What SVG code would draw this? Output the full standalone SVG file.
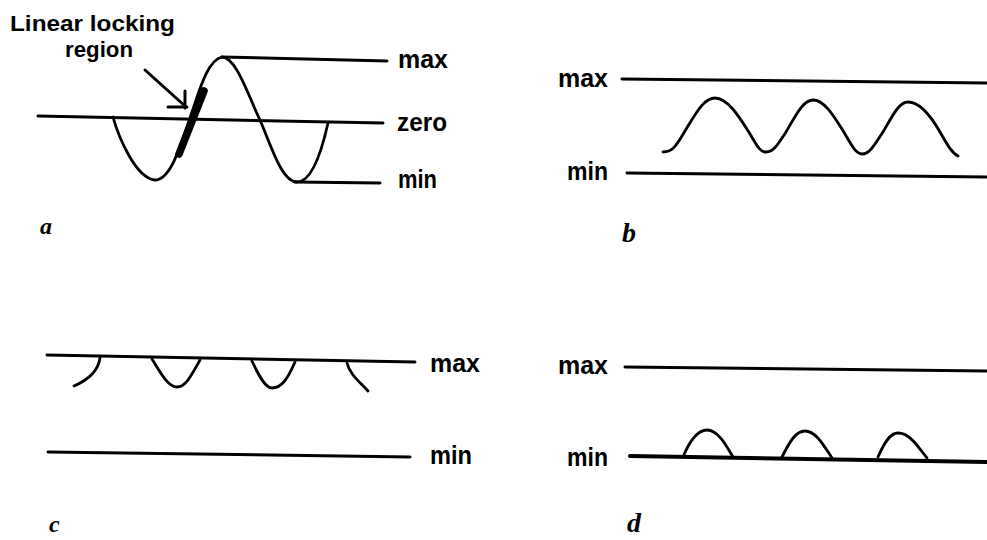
<svg xmlns="http://www.w3.org/2000/svg" width="987" height="540" viewBox="0 0 987 540">
<style>
.ln{stroke:#000;stroke-width:3;fill:none;stroke-linecap:round}
.cv{stroke:#000;stroke-width:2.8;fill:none;stroke-linecap:round;stroke-linejoin:round}
.t{font-family:"Liberation Sans",Arial,sans-serif;font-weight:bold;font-size:26px;fill:#000}
.hd{font-family:"Liberation Sans",Arial,sans-serif;font-weight:bold;font-size:22px;fill:#000}
.lbl{font-family:"Liberation Serif","Times New Roman",serif;font-style:italic;font-weight:bold;fill:#000}
</style>
<rect width="987" height="540" fill="#fff"/>
<g id="panel-a">
  <text class="hd" x="10" y="31" textLength="165" lengthAdjust="spacingAndGlyphs">Linear locking</text>
  <text class="hd" x="65" y="57" textLength="68" lengthAdjust="spacingAndGlyphs">region</text>
  <line class="ln" x1="222" y1="57" x2="387" y2="61"/>
  <line class="ln" x1="38" y1="116" x2="383" y2="123"/>
  <line class="ln" x1="295" y1="182" x2="380" y2="183"/>
  <path class="cv" d="M113,117 C118,135 135,178 155,180 C172,180 182,140 192,112 C200,88 208,60 222,57 C236,57 248,95 260,120 C272,148 282,182 297,182 C312,182 322,150 328,123"/>
  <line x1="179" y1="154" x2="204" y2="91" stroke="#000" stroke-width="7.5" stroke-linecap="round"/>
  <line class="ln" x1="145" y1="70" x2="185" y2="106"/>
  <line class="ln" x1="185" y1="91" x2="185" y2="108"/>
  <line class="ln" x1="168" y1="107" x2="187" y2="107"/>
  <text class="t" x="398" y="68" textLength="50" lengthAdjust="spacingAndGlyphs">max</text>
  <text class="t" x="397" y="131" textLength="50" lengthAdjust="spacingAndGlyphs">zero</text>
  <text class="t" x="398" y="188" textLength="39" lengthAdjust="spacingAndGlyphs">min</text>
  <text class="lbl" x="40" y="234" font-size="24">a</text>
</g>
<g id="panel-b">
  <text class="t" x="558" y="87" textLength="50" lengthAdjust="spacingAndGlyphs">max</text>
  <text class="t" x="567" y="180" textLength="41" lengthAdjust="spacingAndGlyphs">min</text>
  <line class="ln" x1="622" y1="79" x2="987" y2="83"/>
  <line class="ln" x1="627" y1="173" x2="987" y2="177"/>
  <path class="cv" d="M663,152 C672,152 676,146 682,136 C695,115 703,98 715,98 C728,98 740,118 750,134 C757,146 760,152 766,152 C774,152 778,144 786,132 C796,115 803,100 813,100 C825,100 835,118 845,134 C852,146 856,154 862,154 C870,154 875,144 883,132 C893,115 899,102 908,102 C920,102 932,118 940,132 C948,146 952,153 958,156"/>
  <text class="lbl" x="622" y="242" font-size="28">b</text>
</g>
<g id="panel-c">
  <line class="ln" x1="47" y1="355" x2="415" y2="362"/>
  <line class="ln" x1="48" y1="452" x2="410" y2="457"/>
  <path class="cv" d="M100,358 C98,372 88,380 74,386"/>
  <path class="cv" d="M152,359 C160,372 168,387 177,387 C186,387 192,374 200,360"/>
  <path class="cv" d="M252,361 C258,374 265,388 272,388 C282,388 288,378 295,362"/>
  <path class="cv" d="M347,363 C350,375 360,382 368,391"/>
  <text class="t" x="430" y="372" textLength="50" lengthAdjust="spacingAndGlyphs">max</text>
  <text class="t" x="430" y="464" textLength="42" lengthAdjust="spacingAndGlyphs">min</text>
  <text class="lbl" x="49" y="532" font-size="24">c</text>
</g>
<g id="panel-d">
  <text class="t" x="558" y="374" textLength="50" lengthAdjust="spacingAndGlyphs">max</text>
  <text class="t" x="567" y="466" textLength="41" lengthAdjust="spacingAndGlyphs">min</text>
  <line class="ln" x1="625" y1="367" x2="987" y2="371"/>
  <line x1="630" y1="456" x2="987" y2="462" stroke="#000" stroke-width="4" stroke-linecap="round"/>
  <path class="cv" d="M683,457 C690,440 698,430 707,430 C718,430 726,445 733,457"/>
  <path class="cv" d="M782,457 C790,441 796,431 805,431 C816,431 824,446 832,458"/>
  <path class="cv" d="M878,457 C884,443 890,433 898,433 C910,433 918,447 927,458"/>
  <text class="lbl" x="627" y="532" font-size="28">d</text>
</g>
</svg>
